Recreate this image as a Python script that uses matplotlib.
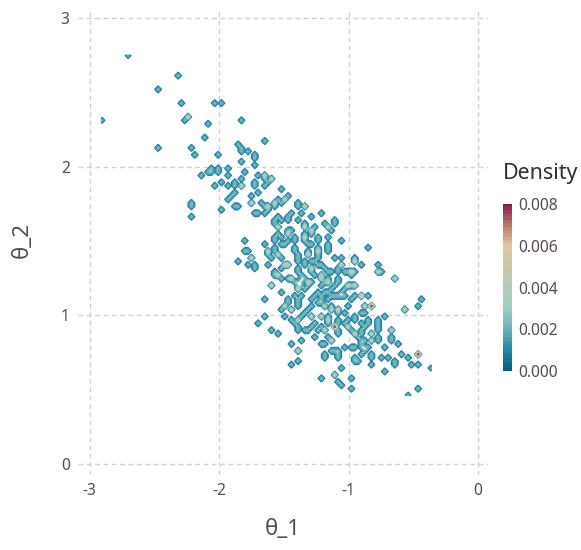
import numpy as np
import matplotlib
matplotlib.use('Agg')
import matplotlib.pyplot as plt
from matplotlib.colors import LinearSegmentedColormap

# --- Samples (repeats = stronger peaks) ---
theta_1 = [
    -2.71, -2.91, -2.32, -2.48, -2.30, -2.04, -1.99, -2.26, -2.23, -2.23,
    -2.09, -1.83, -2.12, -1.65, -2.46, -2.22, -2.19, -2.01, -1.86, -1.84,
    -1.82, -1.78, -1.73, -1.73, -1.83, -1.73, -1.93, -2.09, -2.06, -2.05,
    -2.01, -2.02, -2.14, -1.93, -1.81, -1.83, -1.99, -2.04, -1.93, -1.88,
    -1.88, -1.83, -1.83, -1.73, -1.73, -1.69, -1.66, -1.66, -1.64, -1.60,
    -1.60, -1.62, -1.65, -1.70, -1.75, -1.92, -1.90, -1.88, -1.88, -1.86,
    -1.75, -1.75, -1.68, -1.65, -1.63, -1.63, -1.61, -1.66, -1.58, -1.57,
    -1.57, -1.55, -1.73, -1.70, -2.22, -2.22, -2.22, -1.99, -1.52, -1.51,
    -1.49, -1.49, -1.47, -1.39, -1.39, -1.34, -1.34, -1.37, -1.29, -1.21,
    -1.39, -1.51, -1.48, -1.46, -1.44, -1.54, -1.56, -1.58, -1.55, -1.55,
    -1.33, -1.33, -1.33, -1.30, -1.28, -1.25, -1.30, -1.11, -1.11, -1.18,
    -1.16, -1.16, -1.14, -1.16, -1.06, -1.23, -1.23, -1.41, -1.41, -1.41,
    -1.41, -1.44, -1.51, -1.48, -1.48, -1.47, -1.58, -1.56, -1.55, -1.52,
    -1.49, -1.47, -1.34, -1.34, -1.34, -1.31, -1.29, -1.34, -1.17, -1.15,
    -1.15, -1.11, -1.24, -1.24, -1.24, -1.24, -1.05, -0.85, -0.96, -0.94,
    -0.94, -0.91, -0.78, -0.76, -0.76, -0.74, -0.64, -0.64, -0.56, -0.56,
    -0.46, -0.44, -0.72, -1.81, -1.81, -1.78, -1.76, -1.75, -1.73, -1.73,
    -1.86, -1.78, -1.63, -1.64, -1.62, -1.62, -1.61, -1.59, -1.57, -1.56,
    -1.54, -1.54, -1.51, -1.49, -1.40, -1.40, -1.40, -1.31, -1.31, -1.31,
    -1.33, -1.35, -1.29, -1.24, -1.25, -1.23, -1.47, -1.47, -1.50, -1.53,
    -1.56, -1.56, -1.54, -1.54, -1.51, -1.48, -1.45, -1.45, -1.42, -1.40,
    -1.38, -1.28, -1.28, -1.28, -1.22, -1.22, -1.25, -1.19, -1.36, -1.36,
    -1.36, -1.36, -1.38, -1.34, -1.31, -1.31, -1.29, -1.39, -1.38, -1.38,
    -1.34, -1.32, -1.60, -1.60, -1.52, -1.65, -1.65, -1.70, -1.60, -1.55,
    -1.49, -1.45, -1.37, -1.39, -1.39, -1.39, -1.45, -1.21, -1.34, -1.27,
    -1.21, -1.19, -1.16, -1.14, -1.12, -1.19, -1.19, -1.13, -1.11, -1.08,
    -1.08, -1.08, -1.04, -1.05, -1.10, -1.10, -1.07, -1.05, -0.98, -0.98,
    -0.96, -0.94, -0.92, -0.82, -0.82, -0.82, -0.74, -0.69, -0.64, -0.64,
    -0.72, -0.59, -0.54, -0.51, -0.46, -0.46, -0.46, -0.46, -0.46, -0.36,
    -0.46, -0.54, -0.82, -0.82, -0.82, -0.82, -0.87, -0.87, -0.85, -0.90,
    -0.90, -0.90, -0.95, -0.90, -0.87, -0.96, -0.94, -0.91, -1.01, -1.03,
    -1.00, -1.08, -1.08, -1.11, -1.11, -1.11, -1.11, -1.02, -1.00, -1.00,
    -0.97, -0.95, -0.95, -0.93, -0.82, -0.82, -0.82, -0.82, -0.84, -0.86,
    -0.88, -0.90, -0.91, -0.77, -0.77, -0.78, -0.77, -0.77, -0.76, -0.73,
    -0.66, -0.66, -0.68, -0.66, -0.63, -0.97, -0.94, -0.91, -0.88, -0.86,
    -0.87, -0.90, -0.91, -0.89, -0.87, -1.21, -1.18, -1.15, -1.12, -1.09,
    -1.07, -1.05, -1.05, -1.03, -1.00, -0.97, -0.97, -0.95, -0.99, -0.97,
    -0.94, -0.94, -1.20, -1.20, -1.17, -1.17, -1.15, -1.20, -1.14, -1.11,
    -1.09, -1.07, -1.01, -1.01, -1.04, -1.05, -1.21, -1.17, -1.14, -1.11,
    -1.08, -1.05, -1.02, -0.99, -1.21, -1.18, -1.18, -1.14, -1.14, -1.14,
    -1.09, -1.09, -1.09, -1.09, -1.09, -1.17, -1.17, -1.17, -1.17, -1.19,
    -1.19, -1.26, -1.23, -1.21, -1.18, -1.16, -1.28, -1.24, -1.44, -1.44,
    -1.51, -1.49, -1.49, -1.48, -1.47, -1.41, -1.40, -1.37, -1.38, -1.39,
    -1.45, -1.42, -1.40, -1.38, -1.38, -1.38, -1.36, -1.33, -1.31, -1.28,
    -1.29, -1.29, -1.21, -1.21, -1.25, -1.28, -1.31, -1.22, -1.24,
]
theta_2 = [
    2.75, 2.31, 2.62, 2.52, 2.43, 2.43, 2.43, 2.32, 2.34, 2.34,
    2.29, 2.31, 2.20, 2.17, 2.13, 2.13, 2.08, 2.08, 2.16, 2.13,
    2.11, 2.10, 2.08, 2.05, 2.04, 2.01, 1.99, 1.97, 1.97, 1.99,
    1.97, 1.98, 1.94, 1.94, 1.97, 1.92, 1.90, 1.87, 1.87, 1.90,
    1.88, 1.87, 1.87, 1.90, 1.87, 1.95, 1.94, 1.94, 1.92, 1.92,
    1.92, 1.90, 1.88, 1.83, 1.81, 1.79, 1.81, 1.83, 1.73, 1.73,
    1.76, 1.76, 1.76, 1.73, 1.74, 1.74, 1.70, 1.69, 1.73, 1.76,
    1.76, 1.79, 1.69, 1.69, 1.75, 1.73, 1.66, 1.71, 1.85, 1.75,
    1.78, 1.78, 1.81, 1.76, 1.73, 1.73, 1.73, 1.69, 1.66, 1.69,
    1.64, 1.63, 1.65, 1.67, 1.69, 1.66, 1.63, 1.61, 1.59, 1.59,
    1.62, 1.59, 1.59, 1.57, 1.57, 1.59, 1.54, 1.64, 1.62, 1.61,
    1.59, 1.59, 1.56, 1.53, 1.50, 1.52, 1.50, 1.52, 1.50, 1.46,
    1.43, 1.57, 1.53, 1.55, 1.55, 1.57, 1.51, 1.53, 1.55, 1.48,
    1.48, 1.49, 1.52, 1.52, 1.54, 1.47, 1.48, 1.49, 1.47, 1.45,
    1.42, 1.39, 1.46, 1.44, 1.44, 1.41, 1.39, 1.46, 1.39, 1.37,
    1.37, 1.34, 1.33, 1.30, 1.30, 1.29, 1.25, 1.25, 1.04, 1.04,
    1.06, 1.11, 0.99, 1.50, 1.43, 1.43, 1.39, 1.39, 1.34, 1.32,
    1.36, 1.34, 1.34, 1.47, 1.44, 1.44, 1.41, 1.39, 1.46, 1.43,
    1.41, 1.41, 1.38, 1.35, 1.41, 1.39, 1.36, 1.43, 1.40, 1.40,
    1.36, 1.33, 1.36, 1.39, 1.36, 1.34, 1.35, 1.35, 1.33, 1.32,
    1.30, 1.28, 1.26, 1.26, 1.24, 1.24, 1.24, 1.24, 1.22, 1.30,
    1.32, 1.32, 1.32, 1.29, 1.25, 1.25, 1.27, 1.23, 1.27, 1.24,
    1.22, 1.19, 1.23, 1.24, 1.22, 1.22, 1.22, 1.20, 1.18, 1.18,
    1.17, 1.19, 1.20, 1.20, 1.15, 1.11, 1.00, 0.95, 0.90, 0.88,
    0.99, 0.81, 0.83, 0.76, 0.76, 0.69, 0.67, 0.58, 0.90, 0.85,
    0.81, 0.81, 0.85, 0.84, 0.82, 0.74, 0.71, 0.76, 0.76, 0.76,
    0.73, 0.71, 0.78, 0.65, 0.61, 0.59, 0.56, 0.54, 0.58, 0.50,
    0.72, 0.70, 0.68, 0.74, 0.71, 0.67, 0.71, 0.71, 0.69, 0.67,
    0.62, 0.74, 0.71, 0.67, 0.67, 0.74, 0.74, 0.74, 0.74, 0.65,
    0.50, 0.46, 1.06, 1.06, 1.06, 1.06, 1.06, 1.06, 1.13, 1.14,
    1.12, 1.12, 1.13, 1.01, 1.01, 1.00, 0.98, 0.95, 0.97, 1.01,
    1.06, 1.04, 1.04, 0.92, 0.92, 0.92, 0.92, 0.94, 0.92, 0.92,
    0.90, 0.88, 0.88, 0.86, 0.88, 0.88, 0.83, 0.83, 0.98, 0.95,
    0.92, 0.89, 0.87, 0.98, 0.95, 0.93, 0.90, 0.85, 0.82, 0.79,
    0.91, 0.89, 0.85, 0.82, 0.80, 0.79, 0.79, 0.79, 0.79, 0.79,
    0.75, 0.73, 0.83, 0.81, 0.83, 1.34, 1.32, 1.30, 1.30, 1.30,
    1.32, 1.33, 1.33, 1.30, 1.29, 1.29, 1.29, 1.30, 1.26, 1.20,
    1.20, 1.20, 1.27, 1.27, 1.22, 1.22, 1.24, 1.20, 1.17, 1.20,
    1.22, 1.25, 1.19, 1.19, 1.17, 1.16, 1.11, 1.11, 1.12, 1.12,
    1.12, 1.12, 1.12, 1.11, 1.08, 1.06, 1.06, 1.06, 1.04, 1.04,
    1.01, 0.98, 0.95, 0.89, 0.87, 1.00, 0.98, 0.98, 0.95, 0.90,
    0.90, 1.14, 1.15, 1.13, 1.15, 1.16, 1.10, 1.09, 1.04, 1.04,
    1.04, 1.06, 1.06, 1.08, 1.11, 1.12, 1.10, 1.12, 1.09, 1.07,
    0.97, 0.95, 0.93, 0.91, 0.98, 0.98, 1.00, 1.02, 1.04, 1.06,
    1.00, 1.00, 1.00, 1.00, 0.95, 0.93, 0.91, 0.93, 0.90,
]

x_ticks = [-3, -2, -1, 0]
y_ticks = [0, 1, 2, 3]
density_ticks = [0.000, 0.002, 0.004, 0.006, 0.008]

# --- Style ---
GRID_POINTS = 100
DENSITY_PER_SAMPLE = 0.002
TEXT_COLOR = '#564a55'
TITLE_COLOR = '#362a35'
GRID_COLOR = '#d0d0e0'
plt.rcParams['font.family'] = ['Noto Sans', 'DejaVu Sans']

cmap = LinearSegmentedColormap.from_list('density', [
    (0.000, '#0b5c8a'), (0.125, '#2a8aa8'), (0.250, '#6db5b9'),
    (0.375, '#9fcfc6'), (0.500, '#b6c9b9'), (0.625, '#c9c8ad'),
    (0.750, '#dfc8a2'), (0.875, '#b87c6c'), (1.000, '#86204a'),
])

fig = plt.figure(figsize=(5.81, 5.50), dpi=100)
W, H = 581.0, 550.0

# axes box in pixels: x 78..488, y 8..475
ax = fig.add_axes([78 / W, 1 - 475 / H, 410 / W, 467 / H])
ax.set_xlim(-3.091, 0.077)
ax.set_ylim(-0.074, 3.066)

# --- Histogram on a 100x100 grid, then contour lines ---
x_nodes = np.linspace(min(theta_1), max(theta_1), GRID_POINTS)
y_nodes = np.linspace(min(theta_2), max(theta_2), GRID_POINTS)
dx = x_nodes[1] - x_nodes[0]
dy = y_nodes[1] - y_nodes[0]
x_edges = np.append(x_nodes - dx / 2, x_nodes[-1] + dx / 2)
y_edges = np.append(y_nodes - dy / 2, y_nodes[-1] + dy / 2)
counts, _, _ = np.histogram2d(theta_1, theta_2, bins=[x_edges, y_edges])
density = np.minimum(counts * DENSITY_PER_SAMPLE, 0.008)

# vmin below zero so the outermost line is mid teal, as in the reference
levels = np.arange(0.0002, 0.0081, 0.0005)
ax.contour(x_nodes, y_nodes, density.T, levels=levels, cmap=cmap,
           vmin=-0.0005, vmax=0.008, linewidths=1.4, zorder=3)

ax.set_xticks(x_ticks)
ax.set_yticks(y_ticks)
ax.grid(True, color=GRID_COLOR, linestyle=(0, (3.5, 2.5)), linewidth=1.0, zorder=0)
ax.set_axisbelow(True)
for side in ax.spines.values():
    side.set_visible(False)
ax.tick_params(length=0, labelsize=11.2, labelcolor=TEXT_COLOR, pad=6)
ax.set_xticklabels([str(t) for t in x_ticks])
ax.set_yticklabels([str(t) for t in y_ticks])

fig.text(283 / W, 1 - 529 / H, 'θ_1', fontsize=16, color=TEXT_COLOR, ha='center', va='center')
fig.text(22 / W, 1 - 240 / H, 'θ_2', fontsize=16, color=TEXT_COLOR, ha='center', va='center', rotation=90)

# --- Colour key ---
cax = fig.add_axes([503 / W, 1 - 371 / H, 8 / W, 167 / H])
bands = np.linspace(0, 0.008, 50).reshape(-1, 1)
cax.imshow(bands, origin='lower', aspect='auto', cmap=cmap, vmin=0, vmax=0.008,
           extent=[0, 1, 0, 0.008], interpolation='nearest')
cax.set_xticks([])
cax.yaxis.tick_right()
cax.set_yticks(density_ticks)
cax.set_yticklabels([f'{t:.3f}' for t in density_ticks])
cax.tick_params(length=0, labelsize=11.2, labelcolor=TEXT_COLOR, pad=5)
for side in cax.spines.values():
    side.set_visible(False)
fig.text(503 / W, 1 - 173 / H, 'Density', fontsize=15.4, color=TITLE_COLOR, ha='left', va='center')

fig.savefig('out.png', dpi=100)
